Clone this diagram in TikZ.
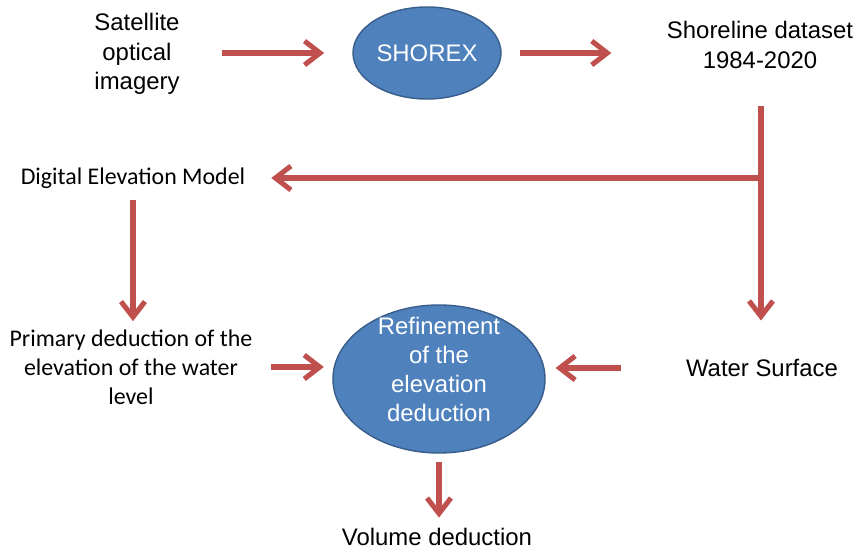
\documentclass[tikz,border=0pt]{standalone}
\usepackage{fontspec}
\setmainfont{Liberation Sans}
\newfontfamily\calibrifont{Carlito}
\usetikzlibrary{shapes,arrows.meta,positioning}
\definecolor{arrowred}{HTML}{C0504D}
\definecolor{ovalblue}{HTML}{4F81BD}
\definecolor{ovalborder}{HTML}{385D8A}

\begin{document}
\begin{tikzpicture}[
    x=0.025cm,
    y=-0.025cm,
    node distance=1cm,
    label/.style={
        align=center,
        text centered,
        font=\fontsize{17}{21}\selectfont
    },
    callabel/.style={
        label,
        font=\calibrifont\fontsize{17}{20.6}\selectfont
    },
    oval/.style={
        draw=ovalborder,
        ellipse,
        fill=ovalblue,
        line width=1pt,
        text=white,
        align=center,
        inner xsep=0pt,
        inner ysep=-2pt,
        font=\fontsize{17}{20.5}\selectfont
    },
    line/.style={
        draw=arrowred,
        line width=3.6pt,
        -{Straight Barb[length=11pt,width=17pt]}
    }
]
\useasboundingbox (0,0) rectangle (858,550);

% Nodes
\node [label] (sat) at (137,54) {Satellite\\optical\\imagery};
\node [oval, minimum width=3.7cm, minimum height=2.3cm] (shorex) at (427,53) {SHOREX};
\node [label] (shore) at (760,45) {Shoreline dataset\\1984-2020};
\node [callabel] (dem) at (133,178) {Digital Elevation Model};
\node [callabel] (prim) at (131,367) {Primary deduction of the\\elevation of the water\\level};
\node [oval, minimum width=5.3cm, minimum height=3.7cm,
       text depth=14pt, inner ysep=-7pt] (refine) at (439,379) {Refinement\\of the\\elevation\\deduction};
\node [label] (water) at (762,368) {Water Surface};
\node [label] (vol) at (437,537) {Volume deduction};
\coordinate (jn) at (761,178);

% Edges
\path [line, shorten <=27pt, shorten >=20pt] (sat.east |- shorex.west) -- (shorex.west);
\path [line, shorten <=13pt, shorten >=36pt] (shorex.east) -- (shorex.east -| shore.west);
\path [line, shorten <=23pt, shorten >=24pt] (shore.south -| jn) -- (water.north -| jn);
\path [line, shorten >=15pt] (jn) -- (dem.east);
\path [line, shorten <=5pt, shorten >=2.5pt] (dem.south) -- (dem.south |- prim.north);
\path [line, shorten <=10pt, shorten >=6pt] (prim.east) -- (prim.east -| refine.west);
\path [line, shorten <=43pt, shorten >=7pt] (water.west) -- (water.west -| refine.east);
\path [line, shorten <=6pt, shorten >=4pt] (refine.south) -- (refine.south |- vol.north);

\end{tikzpicture}
\end{document}
